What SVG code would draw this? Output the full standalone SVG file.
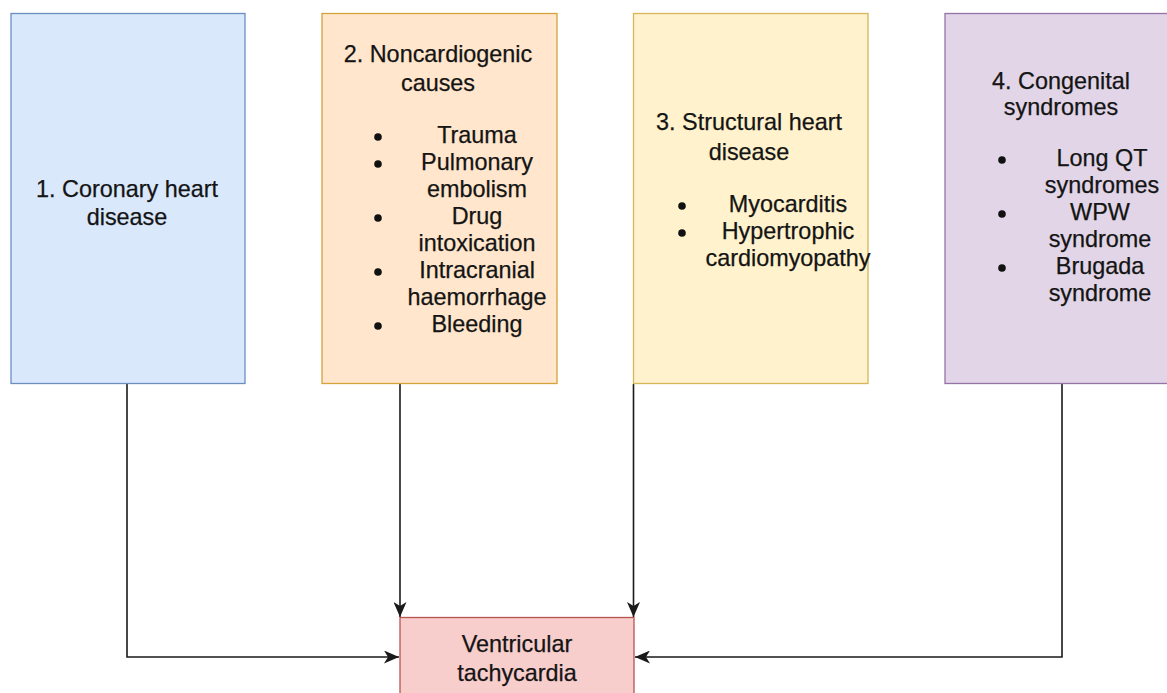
<svg xmlns="http://www.w3.org/2000/svg" width="1167" height="693" viewBox="0 0 1167 693">
<style>
text{font-family:"Liberation Sans",Arial,Helvetica,sans-serif;font-size:23.4px;fill:#141414;stroke:#141414;stroke-width:0.25;text-anchor:middle}
.dot{fill:#111111}
.box{stroke-width:1.3}
.c{fill:none;stroke:#1a1a1a;stroke-width:1.6}
</style>
<defs>
<marker id="ah" viewBox="0 0 15 13" refX="15" refY="6.5" markerWidth="15" markerHeight="13" markerUnits="userSpaceOnUse" orient="auto">
<path d="M0,0 L15,6.5 L0,13 L4,6.5 Z" fill="#1a1a1a"/>
</marker>
</defs>
<rect width="1167" height="693" fill="#ffffff"/>
<g id="connectors">
<path class="c" d="M127,384 V657 H399" marker-end="url(#ah)"/>
<path class="c" d="M400,384 V617" marker-end="url(#ah)"/>
<path class="c" d="M633.5,384 V617" marker-end="url(#ah)"/>
<path class="c" d="M1062,384 V657 H635" marker-end="url(#ah)"/>
</g>
<g id="n1">
<rect class="box" x="11" y="13.5" width="234" height="370" fill="#dae8fc" stroke="#6c8ebf"/>
<text x="127" y="197">1. Coronary heart</text>
<text x="127" y="225">disease</text>
</g>
<g id="n2">
<rect class="box" x="322" y="13.5" width="235" height="370" fill="#ffe6cc" stroke="#d6a23a"/>
<text x="438" y="62">2. Noncardiogenic</text>
<text x="438" y="91">causes</text>
<circle class="dot" cx="378" cy="137" r="3.8"/><text x="477" y="143">Trauma</text>
<circle class="dot" cx="378" cy="164" r="3.8"/><text x="477" y="170">Pulmonary</text>
<text x="477" y="197">embolism</text>
<circle class="dot" cx="378" cy="218" r="3.8"/><text x="477" y="224">Drug</text>
<text x="477" y="251">intoxication</text>
<circle class="dot" cx="378" cy="272" r="3.8"/><text x="477" y="278">Intracranial</text>
<text x="477" y="305">haemorrhage</text>
<circle class="dot" cx="378" cy="326" r="3.8"/><text x="477" y="332">Bleeding</text>
</g>
<g id="n3">
<rect class="box" x="633.5" y="13.5" width="234.5" height="370" fill="#fff2cc" stroke="#d6b656"/>
<text x="749" y="130">3. Structural heart</text>
<text x="749" y="160">disease</text>
<circle class="dot" cx="682" cy="206" r="3.8"/><text x="788" y="212">Myocarditis</text>
<circle class="dot" cx="682" cy="233" r="3.8"/><text x="788" y="239">Hypertrophic</text>
<text x="788" y="266">cardiomyopathy</text>
</g>
<g id="n4">
<rect class="box" x="945" y="13.5" width="240" height="370" fill="#e1d5e7" stroke="#9673a6"/>
<text x="1061" y="89">4. Congenital</text>
<text x="1061" y="115">syndromes</text>
<circle class="dot" cx="1002" cy="160" r="3.8"/><text x="1102" y="166">Long QT</text>
<text x="1102" y="193">syndromes</text>
<circle class="dot" cx="1002" cy="214" r="3.8"/><text x="1100" y="220">WPW</text>
<text x="1100" y="247">syndrome</text>
<circle class="dot" cx="1002" cy="268" r="3.8"/><text x="1100" y="274">Brugada</text>
<text x="1100" y="301">syndrome</text>
</g>
<g id="n5">
<rect class="box" x="400" y="617.5" width="234" height="90" fill="#f8cecc" stroke="#b85450"/>
<text x="517" y="652">Ventricular</text>
<text x="517" y="681">tachycardia</text>
</g>
</svg>
